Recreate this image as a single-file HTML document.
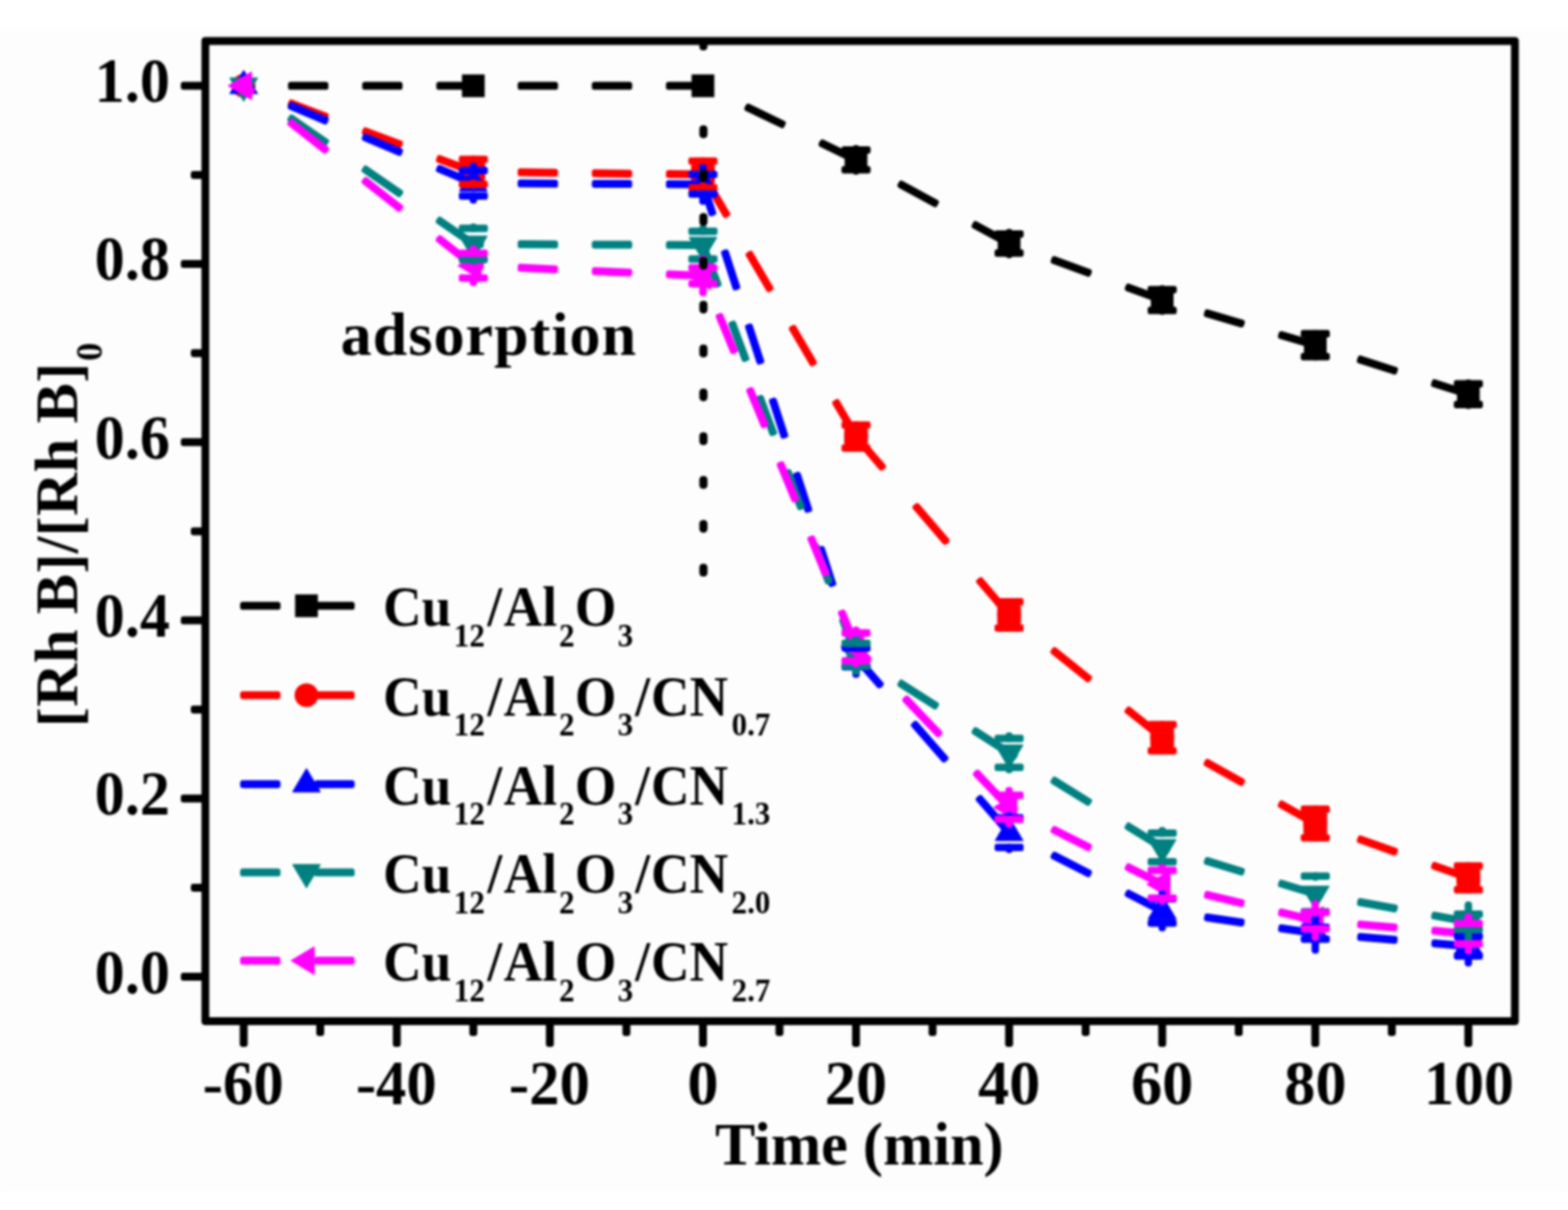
<!DOCTYPE html>
<html lang="en"><head><meta charset="utf-8"><title>Rh B degradation</title>
<style>html,body{margin:0;padding:0;background:#fdfdfd;}body{width:1586px;height:1224px;overflow:hidden;}svg{display:block;filter:blur(0.85px);}text{font-family:"Liberation Serif",serif;font-weight:bold;fill:#000;}</style>
</head><body>
<svg width="1586" height="1224" viewBox="0 0 1586 1224">
<rect x="0" y="0" width="1586" height="1224" fill="#fdfdfd"/>
<rect x="0" y="1205" width="1586" height="19" fill="#ffffff"/>
<rect x="0" y="0" width="1586" height="27" fill="#ffffff"/>
<g fill="#000000"><rect x="441.36" y="82.8" width="40.8" height="8" rx="2.6"/><rect x="366.36" y="82.8" width="40.8" height="8" rx="2.6"/><rect x="291.36" y="82.8" width="40.8" height="8" rx="2.6"/><rect x="243.1" y="82.8" width="14.06" height="8" rx="2.6"/><rect x="673.62" y="82.8" width="40.8" height="8" rx="2.6"/><rect x="598.62" y="82.8" width="40.8" height="8" rx="2.6"/><rect x="523.62" y="82.8" width="40.8" height="8" rx="2.6"/><rect x="475.36" y="82.8" width="14.06" height="8" rx="2.6"/><rect x="826.58" y="149.48" width="44.57" height="8" rx="2.6" transform="rotate(-154.19 848.86 153.48)"/><rect x="751.58" y="113.2" width="44.57" height="8" rx="2.6" transform="rotate(-154.19 773.86 117.2)"/><rect x="707.35" y="83.97" width="12.18" height="8" rx="2.6" transform="rotate(-154.19 713.44 87.97)"/><rect x="980.92" y="233.1" width="45.55" height="8" rx="2.6" transform="rotate(-151.32 1003.7 237.1)"/><rect x="905.92" y="192.07" width="45.55" height="8" rx="2.6" transform="rotate(-151.32 928.7 196.07)"/><rect x="862.12" y="159.02" width="12.32" height="8" rx="2.6" transform="rotate(-151.32 868.28 163.02)"/><rect x="1137.02" y="293.23" width="43.04" height="8" rx="2.6" transform="rotate(-159.76 1158.54 297.23)"/><rect x="1062.02" y="265.57" width="43.04" height="8" rx="2.6" transform="rotate(-159.76 1083.54 269.57)"/><rect x="1017.14" y="243.29" width="11.96" height="8" rx="2.6" transform="rotate(-159.76 1023.12 247.29)"/><rect x="1292.26" y="340.18" width="42.25" height="8" rx="2.6" transform="rotate(-163.56 1313.38 344.18)"/><rect x="1217.26" y="318.05" width="42.25" height="8" rx="2.6" transform="rotate(-163.56 1238.38 322.05)"/><rect x="1172.04" y="300.21" width="11.85" height="8" rx="2.6" transform="rotate(-163.56 1177.96 304.21)"/><rect x="1446.97" y="389.27" width="42.5" height="8" rx="2.6" transform="rotate(-162.27 1468.22 393.27)"/><rect x="1371.97" y="365.29" width="42.5" height="8" rx="2.6" transform="rotate(-162.27 1393.22 369.29)"/><rect x="1326.86" y="345.97" width="11.88" height="8" rx="2.6" transform="rotate(-162.27 1332.8 349.97)"/></g>
<g>
<rect x="467.26" y="75.3" width="23" height="23" fill="#000000"/>
<rect x="699.52" y="75.3" width="23" height="23" fill="#000000"/>
<rect x="854.36" y="150.2" width="23" height="23" fill="#000000"/>
<rect x="1009.2" y="234.9" width="23" height="23" fill="#000000"/>
<rect x="1164.04" y="292" width="23" height="23" fill="#000000"/>
<rect x="1318.88" y="337.7" width="23" height="23" fill="#000000"/>
<rect x="1473.72" y="387.2" width="23" height="23" fill="#000000"/>
</g>
<g fill="#ff0000"><rect x="440.21" y="163.43" width="43.11" height="8" rx="2.6" transform="rotate(-159.47 461.76 167.43)"/><rect x="365.21" y="135.34" width="43.11" height="8" rx="2.6" transform="rotate(-159.47 386.76 139.34)"/><rect x="290.21" y="107.25" width="43.11" height="8" rx="2.6" transform="rotate(-159.47 311.76 111.25)"/><rect x="242.85" y="84.16" width="14.55" height="8" rx="2.6" transform="rotate(-159.47 250.13 88.16)"/><rect x="673.62" y="172.3" width="40.8" height="8" rx="2.6" transform="rotate(-179.33 694.02 176.3)"/><rect x="598.62" y="171.43" width="40.8" height="8" rx="2.6" transform="rotate(-179.33 619.02 175.43)"/><rect x="523.62" y="170.56" width="40.8" height="8" rx="2.6" transform="rotate(-179.33 544.02 174.56)"/><rect x="475.36" y="169.84" width="14.06" height="8" rx="2.6" transform="rotate(-179.33 482.39 173.84)"/><rect x="832.84" y="420.6" width="46.17" height="8" rx="2.6" transform="rotate(-120.29 855.93 424.6)"/><rect x="789.04" y="345.6" width="46.17" height="8" rx="2.6" transform="rotate(-120.29 812.12 349.6)"/><rect x="745.23" y="270.6" width="46.17" height="8" rx="2.6" transform="rotate(-120.29 768.32 274.6)"/><rect x="701.42" y="195.6" width="46.17" height="8" rx="2.6" transform="rotate(-120.29 724.51 199.6)"/><rect x="980.31" y="601" width="51.61" height="8" rx="2.6" transform="rotate(-130.64 1006.11 605)"/><rect x="915.93" y="526" width="51.61" height="8" rx="2.6" transform="rotate(-130.64 941.74 530)"/><rect x="855.48" y="452.8" width="46.86" height="8" rx="2.6" transform="rotate(-130.64 878.91 456.8)"/><rect x="1133.35" y="728.56" width="50.39" height="8" rx="2.6" transform="rotate(-141.27 1158.54 732.56)"/><rect x="1058.35" y="668.41" width="50.39" height="8" rx="2.6" transform="rotate(-141.27 1083.54 672.41)"/><rect x="1016.62" y="619.94" width="13" height="8" rx="2.6" transform="rotate(-141.27 1023.12 623.94)"/><rect x="1290.49" y="819.47" width="45.78" height="8" rx="2.6" transform="rotate(-150.73 1313.38 823.47)"/><rect x="1215.49" y="777.43" width="45.78" height="8" rx="2.6" transform="rotate(-150.73 1238.38 781.43)"/><rect x="1171.79" y="743.56" width="12.35" height="8" rx="2.6" transform="rotate(-150.73 1177.96 747.56)"/><rect x="1446.78" y="877.96" width="42.88" height="8" rx="2.6" transform="rotate(-160.44 1468.22 881.96)"/><rect x="1371.78" y="851.32" width="42.88" height="8" rx="2.6" transform="rotate(-160.44 1393.22 855.32)"/><rect x="1326.83" y="829.86" width="11.94" height="8" rx="2.6" transform="rotate(-160.44 1332.8 833.86)"/></g>
<g>
<circle cx="246.5" cy="86.8" r="12" fill="#ff0000"/>
<circle cx="478.76" cy="173.8" r="12" fill="#ff0000"/>
<rect x="466.76" y="161.2" width="24" height="25.2" rx="6" fill="#ff0000"/>
<circle cx="711.02" cy="176.5" r="12" fill="#ff0000"/>
<rect x="699.02" y="163" width="24" height="27" rx="6" fill="#ff0000"/>
<circle cx="865.86" cy="441.6" r="12" fill="#ff0000"/>
<rect x="853.86" y="429.9" width="24" height="23.4" rx="6" fill="#ff0000"/>
<circle cx="1020.7" cy="622" r="12" fill="#ff0000"/>
<rect x="1008.7" y="608.7" width="24" height="26.6" rx="6" fill="#ff0000"/>
<circle cx="1175.54" cy="746.2" r="12" fill="#ff0000"/>
<rect x="1163.54" y="732.9" width="24" height="26.6" rx="6" fill="#ff0000"/>
<circle cx="1330.38" cy="833" r="12" fill="#ff0000"/>
<rect x="1318.38" y="818.6" width="24" height="28.8" rx="6" fill="#ff0000"/>
<circle cx="1485.22" cy="888" r="12" fill="#ff0000"/>
<rect x="1473.22" y="875.9" width="24" height="24.2" rx="6" fill="#ff0000"/>
</g>
<g fill="#0000ff"><rect x="439.89" y="174.14" width="43.73" height="8" rx="2.6" transform="rotate(-157.01 461.76 178.14)"/><rect x="364.89" y="142.31" width="43.73" height="8" rx="2.6" transform="rotate(-157.01 386.76 146.31)"/><rect x="289.89" y="110.49" width="43.73" height="8" rx="2.6" transform="rotate(-157.01 311.76 114.49)"/><rect x="242.79" y="84.34" width="14.69" height="8" rx="2.6" transform="rotate(-157.01 250.13 88.34)"/><rect x="673.62" y="182.32" width="40.8" height="8" rx="2.6" transform="rotate(-179.74 694.02 186.32)"/><rect x="598.62" y="181.98" width="40.8" height="8" rx="2.6" transform="rotate(-179.74 619.02 185.98)"/><rect x="523.62" y="181.65" width="40.8" height="8" rx="2.6" transform="rotate(-179.74 544.02 185.65)"/><rect x="475.36" y="181.37" width="14.06" height="8" rx="2.6" transform="rotate(-179.74 482.39 185.37)"/><rect x="839.09" y="644" width="42.54" height="8" rx="2.6" transform="rotate(-107.93 860.36 648)"/><rect x="814.83" y="569" width="42.54" height="8" rx="2.6" transform="rotate(-107.93 836.1 573)"/><rect x="790.56" y="494" width="42.54" height="8" rx="2.6" transform="rotate(-107.93 811.83 498)"/><rect x="766.3" y="419" width="42.54" height="8" rx="2.6" transform="rotate(-107.93 787.57 423)"/><rect x="742.03" y="344" width="42.54" height="8" rx="2.6" transform="rotate(-107.93 763.3 348)"/><rect x="717.77" y="269" width="42.54" height="8" rx="2.6" transform="rotate(-107.93 739.04 273)"/><rect x="697.22" y="196.7" width="36.86" height="8" rx="2.6" transform="rotate(-107.93 715.65 200.7)"/><rect x="979.88" y="821.3" width="51.94" height="8" rx="2.6" transform="rotate(-131.13 1005.85 825.3)"/><rect x="914.38" y="746.3" width="51.94" height="8" rx="2.6" transform="rotate(-131.13 940.35 750.3)"/><rect x="856.26" y="674.65" width="43.05" height="8" rx="2.6" transform="rotate(-131.13 877.78 678.65)"/><rect x="1136.05" y="908.8" width="44.99" height="8" rx="2.6" transform="rotate(-152.91 1158.54 912.8)"/><rect x="1061.05" y="870.44" width="44.99" height="8" rx="2.6" transform="rotate(-152.91 1083.54 874.44)"/><rect x="1017" y="839.54" width="12.24" height="8" rx="2.6" transform="rotate(-152.91 1023.12 843.54)"/><rect x="1292.8" y="937.53" width="41.16" height="8" rx="2.6" transform="rotate(-171.73 1313.38 941.53)"/><rect x="1217.8" y="926.63" width="41.16" height="8" rx="2.6" transform="rotate(-171.73 1238.38 930.63)"/><rect x="1172.11" y="917.85" width="11.69" height="8" rx="2.6" transform="rotate(-171.73 1177.96 921.85)"/><rect x="1447.76" y="951.66" width="40.92" height="8" rx="2.6" transform="rotate(-175.16 1468.22 955.66)"/><rect x="1372.76" y="945.32" width="40.92" height="8" rx="2.6" transform="rotate(-175.16 1393.22 949.32)"/><rect x="1326.97" y="940.2" width="11.66" height="8" rx="2.6" transform="rotate(-175.16 1332.8 944.2)"/></g>
<g>
<polygon points="246.5,71.2 260.5,94.7 232.5,94.7" fill="#0000ff" stroke="#0000ff" stroke-width="1" stroke-linejoin="round"/>
<polygon points="478.76,169.75 492.76,193.25 464.76,193.25" fill="#0000ff" stroke="#0000ff" stroke-width="1" stroke-linejoin="round"/>
<polygon points="711.02,170.8 725.02,194.3 697.02,194.3" fill="#0000ff" stroke="#0000ff" stroke-width="1" stroke-linejoin="round"/>
<polygon points="865.86,649.4 879.86,672.9 851.86,672.9" fill="#0000ff" stroke="#0000ff" stroke-width="1" stroke-linejoin="round"/>
<polygon points="1020.7,826.7 1034.7,850.2 1006.7,850.2" fill="#0000ff" stroke="#0000ff" stroke-width="1" stroke-linejoin="round"/>
<polygon points="1175.54,905.9 1189.54,929.4 1161.54,929.4" fill="#0000ff" stroke="#0000ff" stroke-width="1" stroke-linejoin="round"/>
<polygon points="1330.38,928.4 1344.38,951.9 1316.38,951.9" fill="#0000ff" stroke="#0000ff" stroke-width="1" stroke-linejoin="round"/>
<polygon points="1485.22,941.5 1499.22,965 1471.22,965" fill="#0000ff" stroke="#0000ff" stroke-width="1" stroke-linejoin="round"/>
</g>
<g fill="#008080"><rect x="437.72" y="231.09" width="48.09" height="8" rx="2.6" transform="rotate(-145.44 461.76 235.09)"/><rect x="362.72" y="179.42" width="48.09" height="8" rx="2.6" transform="rotate(-145.44 386.76 183.42)"/><rect x="287.72" y="127.76" width="48.09" height="8" rx="2.6" transform="rotate(-145.44 311.76 131.76)"/><rect x="242.32" y="85.3" width="15.62" height="8" rx="2.6" transform="rotate(-145.44 250.13 89.3)"/><rect x="673.62" y="243.91" width="40.8" height="8" rx="2.6" transform="rotate(-179.7 694.02 247.91)"/><rect x="598.62" y="243.52" width="40.8" height="8" rx="2.6" transform="rotate(-179.7 619.02 247.52)"/><rect x="523.62" y="243.14" width="40.8" height="8" rx="2.6" transform="rotate(-179.7 544.02 247.14)"/><rect x="475.36" y="242.82" width="14.06" height="8" rx="2.6" transform="rotate(-179.7 482.39 246.82)"/><rect x="837.96" y="641.3" width="43.1" height="8" rx="2.6" transform="rotate(-110.49 859.51 645.3)"/><rect x="809.93" y="566.3" width="43.1" height="8" rx="2.6" transform="rotate(-110.49 831.48 570.3)"/><rect x="781.9" y="491.3" width="43.1" height="8" rx="2.6" transform="rotate(-110.49 803.45 495.3)"/><rect x="753.87" y="416.3" width="43.1" height="8" rx="2.6" transform="rotate(-110.49 775.42 420.3)"/><rect x="725.84" y="341.3" width="43.1" height="8" rx="2.6" transform="rotate(-110.49 747.38 345.3)"/><rect x="697.81" y="266.3" width="43.1" height="8" rx="2.6" transform="rotate(-110.49 719.35 270.3)"/><rect x="980.1" y="746.7" width="47.19" height="8" rx="2.6" transform="rotate(-147.33 1003.7 750.7)"/><rect x="905.1" y="698.6" width="47.19" height="8" rx="2.6" transform="rotate(-147.33 928.7 702.6)"/><rect x="862.01" y="659.85" width="12.55" height="8" rx="2.6" transform="rotate(-147.33 868.28 663.85)"/><rect x="1135.16" y="842.7" width="46.76" height="8" rx="2.6" transform="rotate(-148.31 1158.54 846.7)"/><rect x="1060.16" y="796.4" width="46.76" height="8" rx="2.6" transform="rotate(-148.31 1083.54 800.4)"/><rect x="1016.88" y="759.09" width="12.49" height="8" rx="2.6" transform="rotate(-148.31 1023.12 763.09)"/><rect x="1292.21" y="895.13" width="42.34" height="8" rx="2.6" transform="rotate(-163.08 1313.38 899.13)"/><rect x="1217.21" y="872.31" width="42.34" height="8" rx="2.6" transform="rotate(-163.08 1238.38 876.31)"/><rect x="1172.03" y="853.94" width="11.86" height="8" rx="2.6" transform="rotate(-163.08 1177.96 857.94)"/><rect x="1447.54" y="925.4" width="41.36" height="8" rx="2.6" transform="rotate(-169.68 1468.22 929.4)"/><rect x="1372.54" y="911.74" width="41.36" height="8" rx="2.6" transform="rotate(-169.68 1393.22 915.74)"/><rect x="1326.94" y="900.74" width="11.72" height="8" rx="2.6" transform="rotate(-169.68 1332.8 904.74)"/></g>
<g>
<polygon points="246.5,102.4 260.5,78.9 232.5,78.9" fill="#008080" stroke="#008080" stroke-width="1" stroke-linejoin="round"/>
<polygon points="478.76,262.4 492.76,238.9 464.76,238.9" fill="#008080" stroke="#008080" stroke-width="1" stroke-linejoin="round"/>
<polygon points="711.02,263.6 725.02,240.1 697.02,240.1" fill="#008080" stroke="#008080" stroke-width="1" stroke-linejoin="round"/>
<polygon points="865.86,677.9 879.86,654.4 851.86,654.4" fill="#008080" stroke="#008080" stroke-width="1" stroke-linejoin="round"/>
<polygon points="1020.7,777.2 1034.7,753.7 1006.7,753.7" fill="#008080" stroke="#008080" stroke-width="1" stroke-linejoin="round"/>
<polygon points="1175.54,872.8 1189.54,849.3 1161.54,849.3" fill="#008080" stroke="#008080" stroke-width="1" stroke-linejoin="round"/>
<polygon points="1330.38,919.9 1344.38,896.4 1316.38,896.4" fill="#008080" stroke="#008080" stroke-width="1" stroke-linejoin="round"/>
<polygon points="1485.22,948.1 1499.22,924.6 1471.22,924.6" fill="#008080" stroke="#008080" stroke-width="1" stroke-linejoin="round"/>
</g>
<g fill="#ff00ff"><rect x="436.76" y="251.43" width="49.99" height="8" rx="2.6" transform="rotate(-141.93 461.76 255.43)"/><rect x="361.76" y="192.68" width="49.99" height="8" rx="2.6" transform="rotate(-141.93 386.76 196.68)"/><rect x="286.76" y="133.92" width="49.99" height="8" rx="2.6" transform="rotate(-141.93 311.76 137.92)"/><rect x="242.12" y="85.64" width="16.02" height="8" rx="2.6" transform="rotate(-141.93 250.13 89.64)"/><rect x="673.6" y="274.25" width="40.83" height="8" rx="2.6" transform="rotate(-177.47 694.02 278.25)"/><rect x="598.6" y="270.94" width="40.83" height="8" rx="2.6" transform="rotate(-177.47 619.02 274.94)"/><rect x="523.6" y="267.63" width="40.83" height="8" rx="2.6" transform="rotate(-177.47 544.02 271.63)"/><rect x="475.36" y="264.91" width="14.07" height="8" rx="2.6" transform="rotate(-177.47 482.39 268.91)"/><rect x="837.06" y="633.4" width="43.58" height="8" rx="2.6" transform="rotate(-112.41 858.85 637.4)"/><rect x="806.12" y="558.4" width="43.58" height="8" rx="2.6" transform="rotate(-112.41 827.91 562.4)"/><rect x="775.19" y="483.4" width="43.58" height="8" rx="2.6" transform="rotate(-112.41 796.98 487.4)"/><rect x="744.25" y="408.4" width="43.58" height="8" rx="2.6" transform="rotate(-112.41 766.04 412.4)"/><rect x="713.32" y="333.4" width="43.58" height="8" rx="2.6" transform="rotate(-112.41 735.11 337.4)"/><rect x="707.49" y="275.2" width="7.23" height="8" rx="2.6" transform="rotate(-112.41 711.1 279.2)"/><rect x="977.59" y="795.7" width="53.79" height="8" rx="2.6" transform="rotate(-133.65 1004.48 799.7)"/><rect x="906.03" y="720.7" width="53.79" height="8" rx="2.6" transform="rotate(-133.65 932.93 724.7)"/><rect x="859.83" y="656.55" width="23.8" height="8" rx="2.6" transform="rotate(-133.65 871.73 660.55)"/><rect x="1136.11" y="881.96" width="44.85" height="8" rx="2.6" transform="rotate(-153.32 1158.54 885.96)"/><rect x="1061.11" y="844.27" width="44.85" height="8" rx="2.6" transform="rotate(-153.32 1083.54 848.27)"/><rect x="1017.01" y="813.92" width="12.22" height="8" rx="2.6" transform="rotate(-153.32 1023.12 817.92)"/><rect x="1292.51" y="923.22" width="41.74" height="8" rx="2.6" transform="rotate(-166.65 1313.38 927.22)"/><rect x="1217.51" y="905.41" width="41.74" height="8" rx="2.6" transform="rotate(-166.65 1238.38 909.41)"/><rect x="1172.07" y="891.07" width="11.77" height="8" rx="2.6" transform="rotate(-166.65 1177.96 895.07)"/><rect x="1447.76" y="939.13" width="40.93" height="8" rx="2.6" transform="rotate(-175.07 1468.22 943.13)"/><rect x="1372.76" y="932.67" width="40.93" height="8" rx="2.6" transform="rotate(-175.07 1393.22 936.67)"/><rect x="1326.97" y="927.46" width="11.66" height="8" rx="2.6" transform="rotate(-175.07 1332.8 931.46)"/></g>
<g>
<polygon points="230.9,86.8 254.4,72.8 254.4,100.8" fill="#ff00ff" stroke="#ff00ff" stroke-width="1" stroke-linejoin="round"/>
<polygon points="463.16,268.75 486.66,254.75 486.66,282.75" fill="#ff00ff" stroke="#ff00ff" stroke-width="1" stroke-linejoin="round"/>
<polygon points="695.42,279 718.92,265 718.92,293" fill="#ff00ff" stroke="#ff00ff" stroke-width="1" stroke-linejoin="round"/>
<polygon points="850.26,654.4 873.76,640.4 873.76,668.4" fill="#ff00ff" stroke="#ff00ff" stroke-width="1" stroke-linejoin="round"/>
<polygon points="1005.1,816.7 1028.6,802.7 1028.6,830.7" fill="#ff00ff" stroke="#ff00ff" stroke-width="1" stroke-linejoin="round"/>
<polygon points="1159.94,894.5 1183.44,880.5 1183.44,908.5" fill="#ff00ff" stroke="#ff00ff" stroke-width="1" stroke-linejoin="round"/>
<polygon points="1314.78,931.25 1338.28,917.25 1338.28,945.25" fill="#ff00ff" stroke="#ff00ff" stroke-width="1" stroke-linejoin="round"/>
<polygon points="1469.62,944.6 1493.12,930.6 1493.12,958.6" fill="#ff00ff" stroke="#ff00ff" stroke-width="1" stroke-linejoin="round"/>
</g>
<path d="M865.86 150.5V151.69M865.86 172.9V171.71M1020.7 235.2V236.79M1020.7 257.6V256.01M1175.54 292.3V292.89M1175.54 314.7V314.11M1330.38 338V337.59M1330.38 360.4V360.81M1485.22 387.5V388.19M1485.22 409.9V409.21" stroke="#000000" stroke-width="7.5" stroke-linecap="round" fill="none"/>
<g fill="#000000"><rect x="851.16" y="147.95" width="29.4" height="7.5" rx="2.2"/><rect x="851.16" y="167.95" width="29.4" height="7.5" rx="2.2"/><rect x="1006" y="233.05" width="29.4" height="7.5" rx="2.2"/><rect x="1006" y="252.25" width="29.4" height="7.5" rx="2.2"/><rect x="1160.84" y="289.15" width="29.4" height="7.5" rx="2.2"/><rect x="1160.84" y="310.35" width="29.4" height="7.5" rx="2.2"/><rect x="1315.68" y="333.85" width="29.4" height="7.5" rx="2.2"/><rect x="1315.68" y="357.05" width="29.4" height="7.5" rx="2.2"/><rect x="1470.52" y="384.45" width="29.4" height="7.5" rx="2.2"/><rect x="1470.52" y="405.45" width="29.4" height="7.5" rx="2.2"/></g>
<path d="M478.76 162.3V161.19M478.76 185.3V186.41M711.02 165V162.99M711.02 188V190.01M865.86 430.1V429.89M865.86 453.1V453.31M1020.7 610.5V608.69M1020.7 633.5V635.31M1175.54 734.7V732.89M1175.54 757.7V759.51M1330.38 821.5V818.59M1330.38 844.5V847.41M1485.22 876.5V875.89M1485.22 899.5V900.11" stroke="#ff0000" stroke-width="7.5" stroke-linecap="round" fill="none"/>
<g fill="#ff0000"><rect x="464.06" y="157.45" width="29.4" height="7.5" rx="2.2"/><rect x="464.06" y="182.65" width="29.4" height="7.5" rx="2.2"/><rect x="696.32" y="159.25" width="29.4" height="7.5" rx="2.2"/><rect x="696.32" y="186.25" width="29.4" height="7.5" rx="2.2"/><rect x="851.16" y="426.15" width="29.4" height="7.5" rx="2.2"/><rect x="851.16" y="449.55" width="29.4" height="7.5" rx="2.2"/><rect x="1006" y="604.95" width="29.4" height="7.5" rx="2.2"/><rect x="1006" y="631.55" width="29.4" height="7.5" rx="2.2"/><rect x="1160.84" y="729.15" width="29.4" height="7.5" rx="2.2"/><rect x="1160.84" y="755.75" width="29.4" height="7.5" rx="2.2"/><rect x="1315.68" y="814.85" width="29.4" height="7.5" rx="2.2"/><rect x="1315.68" y="843.65" width="29.4" height="7.5" rx="2.2"/><rect x="1470.52" y="872.15" width="29.4" height="7.5" rx="2.2"/><rect x="1470.52" y="896.35" width="29.4" height="7.5" rx="2.2"/></g>
<path d="M478.76 168.35V172.49M478.76 202.35V198.21M711.02 169.4V176.49M711.02 203.4V196.31M865.86 648V655.49M865.86 682V674.51M1020.7 825.3V827.29M1020.7 859.3V857.31M1175.54 904.5V909.19M1175.54 938.5V933.81M1330.38 927V937.99M1330.38 961V950.01M1485.22 940.1V947.29M1485.22 974.1V966.91" stroke="#0000ff" stroke-width="7.5" stroke-linecap="round" fill="none"/>
<g fill="#0000ff"><rect x="464.06" y="168.75" width="29.4" height="7.5" rx="2.2"/><rect x="464.06" y="194.45" width="29.4" height="7.5" rx="2.2"/><rect x="696.32" y="172.75" width="29.4" height="7.5" rx="2.2"/><rect x="696.32" y="192.55" width="29.4" height="7.5" rx="2.2"/><rect x="851.16" y="651.75" width="29.4" height="7.5" rx="2.2"/><rect x="851.16" y="670.75" width="29.4" height="7.5" rx="2.2"/><rect x="1006" y="823.55" width="29.4" height="7.5" rx="2.2"/><rect x="1006" y="853.55" width="29.4" height="7.5" rx="2.2"/><rect x="1160.84" y="905.45" width="29.4" height="7.5" rx="2.2"/><rect x="1160.84" y="930.05" width="29.4" height="7.5" rx="2.2"/><rect x="1315.68" y="934.25" width="29.4" height="7.5" rx="2.2"/><rect x="1315.68" y="946.25" width="29.4" height="7.5" rx="2.2"/><rect x="1470.52" y="943.55" width="29.4" height="7.5" rx="2.2"/><rect x="1470.52" y="963.15" width="29.4" height="7.5" rx="2.2"/></g>
<path d="M478.76 229.8V231.09M478.76 263.8V262.51M711.02 231V233.89M711.02 265V262.11M865.86 645.3V650.79M865.86 679.3V673.81M1020.7 744.6V746.99M1020.7 778.6V776.21M1175.54 840.2V842.69M1175.54 874.2V871.71M1330.38 887.3V886.29M1330.38 921.3V922.31M1485.22 915.5V924.74M1485.22 949.5V940.26" stroke="#008080" stroke-width="7.5" stroke-linecap="round" fill="none"/>
<g fill="#008080"><rect x="464.06" y="227.35" width="29.4" height="7.5" rx="2.2"/><rect x="464.06" y="258.75" width="29.4" height="7.5" rx="2.2"/><rect x="696.32" y="230.15" width="29.4" height="7.5" rx="2.2"/><rect x="696.32" y="258.35" width="29.4" height="7.5" rx="2.2"/><rect x="851.16" y="647.05" width="29.4" height="7.5" rx="2.2"/><rect x="851.16" y="670.05" width="29.4" height="7.5" rx="2.2"/><rect x="1006" y="743.25" width="29.4" height="7.5" rx="2.2"/><rect x="1006" y="772.45" width="29.4" height="7.5" rx="2.2"/><rect x="1160.84" y="838.95" width="29.4" height="7.5" rx="2.2"/><rect x="1160.84" y="867.95" width="29.4" height="7.5" rx="2.2"/><rect x="1315.68" y="882.55" width="29.4" height="7.5" rx="2.2"/><rect x="1315.68" y="918.55" width="29.4" height="7.5" rx="2.2"/><rect x="1470.52" y="921" width="29.4" height="7.5" rx="2.2"/><rect x="1470.52" y="936.5" width="29.4" height="7.5" rx="2.2"/></g>
<path d="M478.76 251.75V256.29M478.76 285.75V281.21M711.02 262V270.99M711.02 296V287.01M865.86 637.4V640.29M865.86 671.4V668.51M1020.7 799.7V804.54M1020.7 833.7V828.86M1175.54 877.5V880.39M1175.54 911.5V908.61M1330.38 914.25V923.04M1330.38 948.25V939.46M1485.22 927.6V934.34M1485.22 961.6V954.86" stroke="#ff00ff" stroke-width="7.5" stroke-linecap="round" fill="none"/>
<g fill="#ff00ff"><rect x="464.06" y="252.55" width="29.4" height="7.5" rx="2.2"/><rect x="464.06" y="277.45" width="29.4" height="7.5" rx="2.2"/><rect x="696.32" y="267.25" width="29.4" height="7.5" rx="2.2"/><rect x="696.32" y="283.25" width="29.4" height="7.5" rx="2.2"/><rect x="851.16" y="636.55" width="29.4" height="7.5" rx="2.2"/><rect x="851.16" y="664.75" width="29.4" height="7.5" rx="2.2"/><rect x="1006" y="800.8" width="29.4" height="7.5" rx="2.2"/><rect x="1006" y="825.1" width="29.4" height="7.5" rx="2.2"/><rect x="1160.84" y="876.65" width="29.4" height="7.5" rx="2.2"/><rect x="1160.84" y="904.85" width="29.4" height="7.5" rx="2.2"/><rect x="1315.68" y="919.3" width="29.4" height="7.5" rx="2.2"/><rect x="1315.68" y="935.7" width="29.4" height="7.5" rx="2.2"/><rect x="1470.52" y="930.6" width="29.4" height="7.5" rx="2.2"/><rect x="1470.52" y="951.1" width="29.4" height="7.5" rx="2.2"/></g>
<path d="M711.5 42.2v4.8M711.5 86.55v4.8M711.5 130.9v4.8M711.5 175.25v4.8M711.5 219.6v4.8M711.5 263.95v4.8M711.5 308.3v4.8M711.5 352.65v4.8M711.5 397v4.8M711.5 441.35v4.8M711.5 485.7v4.8M711.5 530.05v4.8M711.5 574.4v4.8" stroke="#000" stroke-width="8.2" stroke-linecap="round" fill="none"/>
<rect x="207.7" y="41.5" width="1324.6" height="991.5" fill="none" stroke="#000" stroke-width="7.9" stroke-linejoin="round"/>
<g fill="#000"><rect x="182.9" y="984.1" width="24.8" height="8" rx="2.4"/><rect x="193" y="893.97" width="14.7" height="8" rx="2.4"/><rect x="182.9" y="803.84" width="24.8" height="8" rx="2.4"/><rect x="193" y="713.71" width="14.7" height="8" rx="2.4"/><rect x="182.9" y="623.58" width="24.8" height="8" rx="2.4"/><rect x="193" y="533.45" width="14.7" height="8" rx="2.4"/><rect x="182.9" y="443.32" width="24.8" height="8" rx="2.4"/><rect x="193" y="353.19" width="14.7" height="8" rx="2.4"/><rect x="182.9" y="263.06" width="24.8" height="8" rx="2.4"/><rect x="193" y="172.93" width="14.7" height="8" rx="2.4"/><rect x="182.9" y="82.8" width="24.8" height="8" rx="2.4"/><rect x="242.5" y="1033" width="8" height="25.9" rx="2.4"/><rect x="319.92" y="1033" width="8" height="15" rx="2.4"/><rect x="397.34" y="1033" width="8" height="25.9" rx="2.4"/><rect x="474.76" y="1033" width="8" height="15" rx="2.4"/><rect x="552.18" y="1033" width="8" height="25.9" rx="2.4"/><rect x="629.6" y="1033" width="8" height="15" rx="2.4"/><rect x="707.02" y="1033" width="8" height="25.9" rx="2.4"/><rect x="784.44" y="1033" width="8" height="15" rx="2.4"/><rect x="861.86" y="1033" width="8" height="25.9" rx="2.4"/><rect x="939.28" y="1033" width="8" height="15" rx="2.4"/><rect x="1016.7" y="1033" width="8" height="25.9" rx="2.4"/><rect x="1094.12" y="1033" width="8" height="15" rx="2.4"/><rect x="1171.54" y="1033" width="8" height="25.9" rx="2.4"/><rect x="1248.96" y="1033" width="8" height="15" rx="2.4"/><rect x="1326.38" y="1033" width="8" height="25.9" rx="2.4"/><rect x="1403.8" y="1033" width="8" height="15" rx="2.4"/><rect x="1481.22" y="1033" width="8" height="25.9" rx="2.4"/></g>
<g font-size="63px">
<text transform="translate(171.8,1004.5) scale(0.965,1)" text-anchor="end">0.0</text>
<text transform="translate(171.8,824.24) scale(0.965,1)" text-anchor="end">0.2</text>
<text transform="translate(171.8,643.98) scale(0.965,1)" text-anchor="end">0.4</text>
<text transform="translate(171.8,463.72) scale(0.965,1)" text-anchor="end">0.6</text>
<text transform="translate(171.8,283.46) scale(0.965,1)" text-anchor="end">0.8</text>
<text transform="translate(171.8,103.2) scale(0.965,1)" text-anchor="end">1.0</text>
<text transform="translate(246,1116.8) scale(0.975,1)" text-anchor="middle">-60</text>
<text transform="translate(400.84,1116.8) scale(0.975,1)" text-anchor="middle">-40</text>
<text transform="translate(555.68,1116.8) scale(0.975,1)" text-anchor="middle">-20</text>
<text x="711.02" y="1116.8" text-anchor="middle">0</text>
<text x="865.86" y="1116.8" text-anchor="middle">20</text>
<text x="1020.7" y="1116.8" text-anchor="middle">40</text>
<text x="1175.54" y="1116.8" text-anchor="middle">60</text>
<text x="1330.38" y="1116.8" text-anchor="middle">80</text>
<text transform="translate(1485.82,1116.8) scale(0.96,1)" text-anchor="middle">100</text>
</g>
<text x="869.2" y="1178" font-size="61px" text-anchor="middle">Time (min)</text>
<text transform="translate(77.8,735.5) rotate(-90)" font-size="61px" letter-spacing="0.2"><tspan dy="3.5">[</tspan><tspan dy="-3.5">Rh B</tspan><tspan dy="3.5">]</tspan><tspan dy="-3.5">/</tspan><tspan dy="3.5">[</tspan><tspan dy="-3.5">Rh B</tspan><tspan dy="3.5">]</tspan><tspan font-size="37.5px" dx="1.5" dy="21.5">0</tspan></text>
<text transform="translate(344.5,358.8) scale(1.03,1)" font-size="61px" letter-spacing="1">adsorption</text>
<g fill="#000000"><rect x="242.9" y="608.8" width="40.8" height="8" rx="2.6"/><rect x="317.9" y="608.8" width="40.8" height="8" rx="2.6"/></g>
<rect x="298.5" y="601.3" width="23" height="23" fill="#000000"/>
<text font-size="56.4px" transform="translate(0,633.2) scale(0.957,1)"><tspan x="404.91" y="0">Cu</tspan><tspan x="479.62" y="20.7" font-size="32.8px">12</tspan><tspan x="515.15" y="0">/</tspan><tspan x="532.39" y="0">Al</tspan><tspan x="590.91" y="20.7" font-size="32.8px">2</tspan><tspan x="607.63" y="0">O</tspan><tspan x="652.87" y="20.7" font-size="32.8px">3</tspan></text>
<g fill="#ff0000"><rect x="242.9" y="699.2" width="40.8" height="8" rx="2.6"/><rect x="317.9" y="699.2" width="40.8" height="8" rx="2.6"/></g>
<circle cx="310" cy="703.2" r="12" fill="#ff0000"/>
<text font-size="56.4px" transform="translate(0,723.6) scale(0.957,1)"><tspan x="404.91" y="0">Cu</tspan><tspan x="479.62" y="20.7" font-size="32.8px">12</tspan><tspan x="515.15" y="0">/</tspan><tspan x="532.39" y="0">Al</tspan><tspan x="590.91" y="20.7" font-size="32.8px">2</tspan><tspan x="607.63" y="0">O</tspan><tspan x="652.87" y="20.7" font-size="32.8px">3</tspan><tspan x="671.37" y="0">/</tspan><tspan x="688.09" y="0">CN</tspan><tspan x="773.25" y="20.7" font-size="32.8px">0.7</tspan></text>
<g fill="#0000ff"><rect x="242.9" y="789.2" width="40.8" height="8" rx="2.6"/><rect x="317.9" y="789.2" width="40.8" height="8" rx="2.6"/></g>
<polygon points="310,777.6 324,801.1 296,801.1" fill="#0000ff" stroke="#0000ff" stroke-width="1" stroke-linejoin="round"/>
<text font-size="56.4px" transform="translate(0,813.6) scale(0.957,1)"><tspan x="404.91" y="0">Cu</tspan><tspan x="479.62" y="20.7" font-size="32.8px">12</tspan><tspan x="515.15" y="0">/</tspan><tspan x="532.39" y="0">Al</tspan><tspan x="590.91" y="20.7" font-size="32.8px">2</tspan><tspan x="607.63" y="0">O</tspan><tspan x="652.87" y="20.7" font-size="32.8px">3</tspan><tspan x="671.37" y="0">/</tspan><tspan x="688.09" y="0">CN</tspan><tspan x="773.25" y="20.7" font-size="32.8px">1.3</tspan></text>
<g fill="#008080"><rect x="242.9" y="878.5" width="40.8" height="8" rx="2.6"/><rect x="317.9" y="878.5" width="40.8" height="8" rx="2.6"/></g>
<polygon points="310,898.1 324,874.6 296,874.6" fill="#008080" stroke="#008080" stroke-width="1" stroke-linejoin="round"/>
<text font-size="56.4px" transform="translate(0,902.9) scale(0.957,1)"><tspan x="404.91" y="0">Cu</tspan><tspan x="479.62" y="20.7" font-size="32.8px">12</tspan><tspan x="515.15" y="0">/</tspan><tspan x="532.39" y="0">Al</tspan><tspan x="590.91" y="20.7" font-size="32.8px">2</tspan><tspan x="607.63" y="0">O</tspan><tspan x="652.87" y="20.7" font-size="32.8px">3</tspan><tspan x="671.37" y="0">/</tspan><tspan x="688.09" y="0">CN</tspan><tspan x="773.25" y="20.7" font-size="32.8px">2.0</tspan></text>
<g fill="#ff00ff"><rect x="242.9" y="967.8" width="40.8" height="8" rx="2.6"/><rect x="317.9" y="967.8" width="40.8" height="8" rx="2.6"/></g>
<polygon points="294.4,971.8 317.9,957.8 317.9,985.8" fill="#ff00ff" stroke="#ff00ff" stroke-width="1" stroke-linejoin="round"/>
<text font-size="56.4px" transform="translate(0,992.2) scale(0.957,1)"><tspan x="404.91" y="0">Cu</tspan><tspan x="479.62" y="20.7" font-size="32.8px">12</tspan><tspan x="515.15" y="0">/</tspan><tspan x="532.39" y="0">Al</tspan><tspan x="590.91" y="20.7" font-size="32.8px">2</tspan><tspan x="607.63" y="0">O</tspan><tspan x="652.87" y="20.7" font-size="32.8px">3</tspan><tspan x="671.37" y="0">/</tspan><tspan x="688.09" y="0">CN</tspan><tspan x="773.25" y="20.7" font-size="32.8px">2.7</tspan></text>
</svg>
</body></html>
